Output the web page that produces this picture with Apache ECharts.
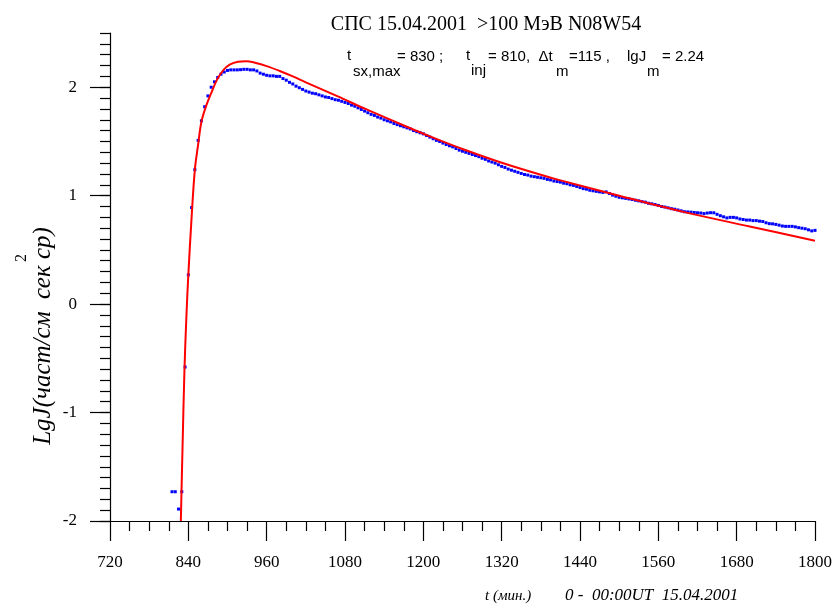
<!DOCTYPE html>
<html>
<head>
<meta charset="utf-8">
<script src="https://cdn.jsdelivr.net/npm/echarts@6/dist/echarts.min.js"></script>
<style>
html,body{margin:0;padding:0;background:#fff;}
#chart{width:835px;height:606px;}
</style>
</head>
<body>
<div id="chart"></div>
<script>
// Observed intensity (lg J) every 5 minutes: [time (min), lgJ]
const observed = [
[815,-1.73],[820,-1.73],[825,-1.89],[830,-1.73],[835,-0.58],[840,0.27],[845,0.89],[850,1.24],
[855,1.51],[860,1.69],[865,1.82],[870,1.92],[875,2.00],[880,2.05],[885,2.09],[890,2.12],
[895,2.14],[900,2.155],[905,2.16],[910,2.16],[915,2.16],[920,2.162],[925,2.165],[930,2.165],
[935,2.16],[940,2.16],[945,2.15],[950,2.13],[955,2.12],[960,2.11],[965,2.105],[970,2.105],
[975,2.10],[980,2.10],[985,2.08],[990,2.065],[995,2.045],[1000,2.03],[1005,2.01],[1010,1.995],
[1015,1.98],[1020,1.965],[1025,1.955],[1030,1.945],[1035,1.94],[1040,1.93],[1045,1.92],[1050,1.91],
[1055,1.905],[1060,1.895],[1065,1.885],[1070,1.88],[1075,1.87],[1080,1.86],[1085,1.85],[1090,1.835],
[1095,1.825],[1100,1.81],[1105,1.795],[1110,1.78],[1115,1.765],[1120,1.75],[1125,1.74],[1130,1.725],
[1135,1.715],[1140,1.70],[1145,1.69],[1150,1.68],[1155,1.665],[1160,1.655],[1165,1.645],[1170,1.635],
[1175,1.625],[1180,1.615],[1185,1.60],[1190,1.59],[1195,1.58],[1200,1.57],[1205,1.555],[1210,1.54],
[1215,1.525],[1220,1.51],[1225,1.50],[1230,1.485],[1235,1.472],[1240,1.46],[1245,1.45],[1250,1.435],
[1255,1.42],[1260,1.41],[1265,1.40],[1270,1.39],[1275,1.38],[1280,1.37],[1285,1.36],[1290,1.345],
[1295,1.335],[1300,1.32],[1305,1.31],[1310,1.30],[1315,1.285],[1320,1.27],[1325,1.26],[1330,1.245],
[1335,1.235],[1340,1.225],[1345,1.215],[1350,1.205],[1355,1.195],[1360,1.19],[1365,1.18],[1370,1.175],
[1375,1.17],[1380,1.165],[1385,1.16],[1390,1.15],[1395,1.145],[1400,1.135],[1405,1.13],[1410,1.125],
[1415,1.115],[1420,1.11],[1425,1.10],[1430,1.095],[1435,1.085],[1440,1.075],[1445,1.065],[1450,1.06],
[1455,1.05],[1460,1.045],[1465,1.04],[1470,1.035],[1475,1.03],[1480,1.035],[1485,1.02],[1490,1.005],
[1495,0.995],[1500,0.985],[1505,0.98],[1510,0.975],[1515,0.97],[1520,0.965],[1525,0.958],[1530,0.952],
[1535,0.945],[1540,0.94],[1545,0.93],[1550,0.925],[1555,0.918],[1560,0.91],[1565,0.90],[1570,0.895],
[1575,0.888],[1580,0.88],[1585,0.875],[1590,0.868],[1595,0.86],[1600,0.852],[1605,0.85],[1610,0.848],
[1615,0.845],[1620,0.842],[1625,0.84],[1630,0.835],[1635,0.84],[1640,0.843],[1645,0.842],[1650,0.828],
[1655,0.815],[1660,0.805],[1665,0.795],[1670,0.80],[1675,0.80],[1680,0.795],[1685,0.785],[1690,0.78],
[1695,0.775],[1700,0.775],[1705,0.77],[1710,0.77],[1715,0.765],[1720,0.762],[1725,0.75],[1730,0.742],
[1735,0.74],[1740,0.735],[1745,0.728],[1750,0.72],[1755,0.717],[1760,0.717],[1765,0.717],[1770,0.712],
[1775,0.705],[1780,0.70],[1785,0.695],[1790,0.685],[1795,0.675],[1800,0.68]
];

// Model (fit) curve
const modelTime = [828.5,831,834,837,840,845,850,855,860,868,876,884,894,904,916,929,942,960,980,1000,1020,1069,1113,1171,1215,1260,1312,1362,1406,1503,1600,1700,1800];
const modelLg   = [-2.0,-1.35,-0.62,-0.12,0.27,0.80,1.24,1.47,1.68,1.84,1.96,2.07,2.16,2.21,2.235,2.24,2.226,2.195,2.15,2.10,2.045,1.915,1.795,1.645,1.535,1.43,1.32,1.225,1.148,0.995,0.848,0.716,0.585];

const xTickValues = [720,840,960,1080,1200,1320,1440,1560,1680,1800];
const yTickValues = [-2,-1,0,1,2];

const titleText = 'СПС 15.04.2001  >100 МэВ N08W54';
const yName = 'LgJ(част/см  сек ср)';
const yNameSup = '2';

const chart = echarts.init(document.getElementById('chart'));
const serif = '"Liberation Serif", "Times New Roman", serif';
const sans = '"Liberation Sans", Arial, sans-serif';

function txt(text, x, y, font, align) {
  return {
    type: 'text', x: x, y: y, silent: true,
    style: {text: text, font: font, fill: '#000', align: align || 'left', verticalAlign: 'middle'}
  };
}
function vtxt(text, x, y, font) {
  return {
    type: 'text', x: x, y: y, rotation: Math.PI / 2, silent: true,
    style: {text: text, font: font, fill: '#000', align: 'center', verticalAlign: 'middle'}
  };
}

const graphics = [
  txt(titleText, 486, 25, '20px ' + serif, 'center'),
  txt('t', 347, 56, '15px ' + sans),
  txt('sx,max', 353, 72, '15px ' + sans),
  txt('= 830 ;', 397, 57, '15px ' + sans),
  txt('t', 466, 56, '15px ' + sans),
  txt('inj', 471, 71, '15px ' + sans),
  txt('= 810,  Δt', 488, 57, '15px ' + sans),
  txt('m', 556, 72, '15px ' + sans),
  txt('=115 ,', 569, 57, '15px ' + sans),
  txt('lgJ', 627, 57, '15px ' + sans),
  txt('m', 647, 72, '15px ' + sans),
  txt('= 2.24', 662, 57, '15px ' + sans),
  vtxt(yName, 43, 336, 'italic 25px ' + serif),
  vtxt(yNameSup, 22, 258, '16px ' + serif),
  txt('t (мин.)', 485, 596, 'italic 15px ' + serif),
  txt('0 -  00:00UT  15.04.2001', 565, 596, 'italic 17px ' + serif)
];

const option = {
  animation: false,
  backgroundColor: '#fff',
  grid: {left:110, right:19, top:33, bottom:85, containLabel:false},
  xAxis: [{
    type:'value', min:720, max:1800, interval:120,
    axisLine:{show:true, onZero:false, lineStyle:{color:'#000', width:1.2}},
    axisTick:{show:true, inside:false, length:20, lineStyle:{color:'#000', width:1.2}},
    minorTick:{show:true, splitNumber:4, length:10, lineStyle:{color:'#000', width:1.2}},
    splitLine:{show:false},
    axisLabel:{show:true, margin:33, color:'#000', fontSize:17, fontFamily:serif,
      customValues: xTickValues, formatter: v => String(v)}
  }],
  yAxis: [{
    type:'value', min:-2, max:2.5, interval:0.1, position:'left',
    axisLine:{show:true, onZero:false, lineStyle:{color:'#000', width:1.2}},
    axisTick:{show:true, inside:false, length:10, lineStyle:{color:'#000', width:1.2}},
    splitLine:{show:false},
    axisLabel:{show:false}
  },{
    type:'value', min:-2, max:2.5, position:'left', offset:0,
    axisLine:{show:false},
    axisTick:{show:true, inside:false, length:20, lineStyle:{color:'#000', width:1.2}, customValues: yTickValues},
    splitLine:{show:false},
    axisLabel:{show:true, margin:33, color:'#000', fontSize:17, fontFamily:serif,
      customValues: yTickValues, formatter: v => String(v)}
  }],
  graphic: graphics,
  series: [{
    type:'line', name:'observed', xAxisIndex:0, yAxisIndex:0,
    data: observed,
    showSymbol:true, symbol:'rect', symbolSize:3,
    lineStyle:{width:0, opacity:0},
    itemStyle:{color:'#0000ff'},
    z:3, clip:true
  },{
    type:'line', name:'model', xAxisIndex:0, yAxisIndex:0,
    data: modelTime.map((t,i)=>[t, modelLg[i]]),
    showSymbol:false, smooth:0.35,
    lineStyle:{color:'#ff0000', width:2},
    z:4, clip:true
  }]
};
chart.setOption(option);
</script>
</body>
</html>
